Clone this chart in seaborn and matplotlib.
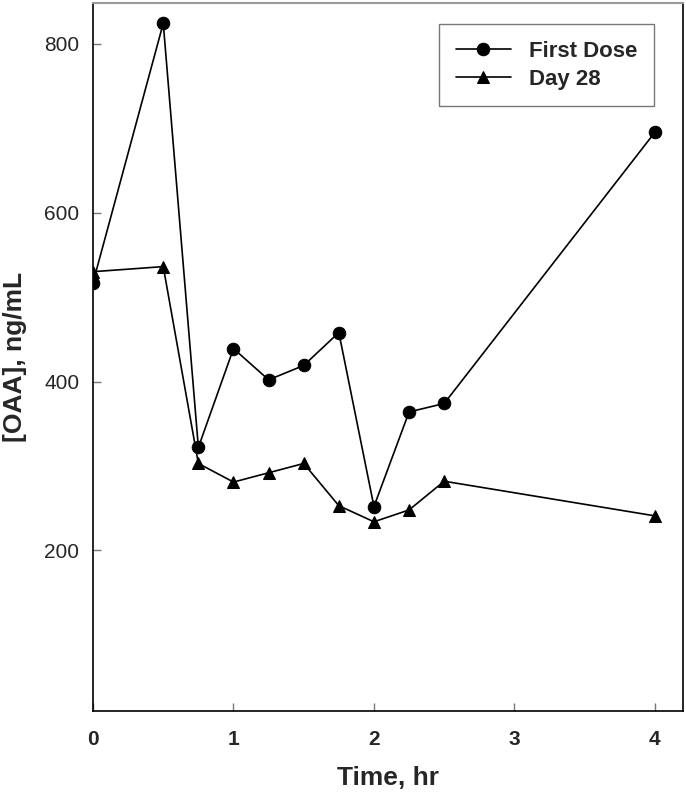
import matplotlib
matplotlib.use("Agg")
import matplotlib.pyplot as plt
import seaborn as sns
import pandas as pd

# sampling times (hr)
time = [0, 0.5, 0.75, 1, 1.25, 1.5, 1.75, 2, 2.25, 2.5, 4]
# [OAA] ng/mL
first_dose = [517, 824, 322, 439, 402, 419, 458, 252, 364, 374, 695]
day_28 = [530, 536, 303, 281, 292, 303, 253, 234, 248, 282, 241]

df = pd.DataFrame({
    "time": time * 2,
    "conc": first_dose + day_28,
    "group": ["First Dose"] * len(time) + ["Day 28"] * len(time),
})

sns.set_theme(style="white")
plt.rcParams["font.family"] = ["Liberation Sans", "DejaVu Sans"]

fig = plt.figure(figsize=(6.86, 7.94), dpi=100)
ax = fig.add_axes([0.1356, 0.1045, 0.86, 0.8917])

sns.lineplot(data=df, x="time", y="conc", hue="group", style="group",
             markers={"First Dose": "o", "Day 28": "^"}, dashes=False,
             palette={"First Dose": "black", "Day 28": "black"},
             markersize=9, linewidth=1.2, markeredgecolor="black", ax=ax)

ax.set_xlim(0, 4.2)
ax.set_ylim(10, 848)
ax.set_xticks([0, 1, 2, 3, 4])
ax.set_yticks([200, 400, 600, 800])
ax.tick_params(direction="in", length=6, width=1, color="#777777",
               left=True, bottom=True, labelsize=15)
ax.tick_params(axis="x", pad=14)
ax.tick_params(axis="y", pad=10)
for lab in ax.get_xticklabels():
    lab.set_fontweight("bold")
for lab in ax.get_yticklabels():
    lab.set_fontweight("medium")
for side in ["left", "bottom", "right"]:
    ax.spines[side].set_color("black")
    ax.spines[side].set_linewidth(1.2)
ax.spines["top"].set_color("#999999")
ax.spines["top"].set_linewidth(1.5)

ax.set_xlabel("Time, hr", fontsize=19, fontweight="bold", labelpad=12)
ax.set_ylabel("[OAA], ng/mL", fontsize=19, fontweight="bold", labelpad=12)

leg = ax.legend(loc="upper right", bbox_to_anchor=(0.951, 0.970),
                borderaxespad=0, fontsize=16, frameon=True, fancybox=False,
                handlelength=2.5, borderpad=0.75, labelspacing=0.3)
leg.get_frame().set_edgecolor("#555555")
leg.get_frame().set_linewidth(1)
for t in leg.get_texts():
    t.set_fontweight("bold")

fig.savefig("out.png", dpi=100)
